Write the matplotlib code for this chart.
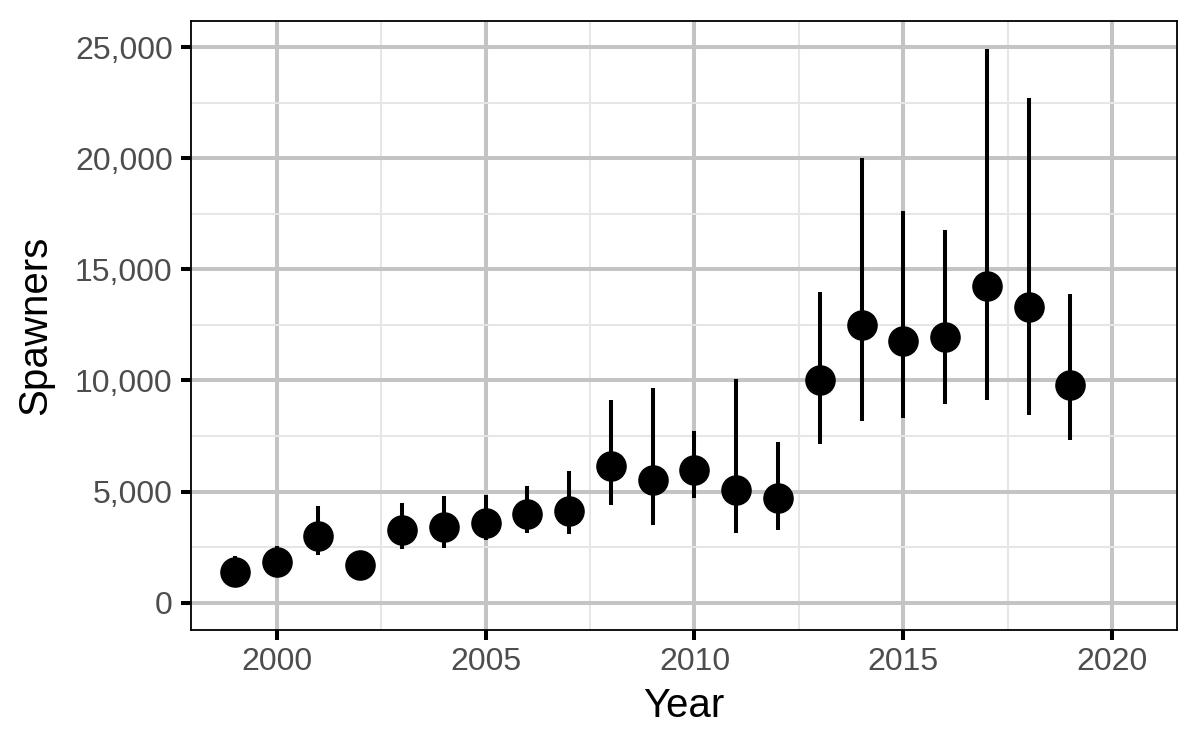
import matplotlib
matplotlib.use("Agg")
import matplotlib.pyplot as plt
from matplotlib.ticker import FuncFormatter, MultipleLocator

years = [1999, 2000, 2001, 2002, 2003, 2004, 2005, 2006, 2007, 2008,
         2009, 2010, 2011, 2012, 2013, 2014, 2015, 2016, 2017, 2018, 2019]
spawners = [1380, 1850, 3020, 1690, 3260, 3410, 3600, 3980, 4130, 6130,
            5510, 5950, 5060, 4690, 10040, 12480, 11780, 11940, 14250, 13310, 9800]
lower = [1000, 1400, 2160, 1450, 2430, 2460, 2840, 3130, 3080, 4390,
         3510, 4690, 3130, 3260, 7130, 8180, 8310, 8940, 9120, 8430, 7320]
upper = [2120, 2570, 4370, 1900, 4490, 4810, 4850, 5260, 5920, 9130,
         9660, 7730, 10050, 7230, 14000, 20000, 17620, 16760, 24930, 22700, 13890]

plt.rcParams['font.family'] = ['Liberation Sans', 'DejaVu Sans']

fig = plt.figure(figsize=(12, 7.5), dpi=100)
ax_l, ax_r, ax_t, ax_b = 191, 1177, 21, 630.4
ax = fig.add_axes([ax_l/1200, 1 - ax_b/750, (ax_r-ax_l)/1200, (ax_b-ax_t)/750])

ax.vlines(years, lower, upper, color='black', linewidth=2.9, zorder=3)
ax.plot(years, spawners, 'o', color='black', markersize=21, zorder=4)

ax.set_xlim(1997.95, 2021.55)
ax.set_ylim(-1247, 26179)

ax.xaxis.set_major_locator(MultipleLocator(5))
ax.xaxis.set_minor_locator(MultipleLocator(2.5))
ax.yaxis.set_major_locator(MultipleLocator(5000))
ax.yaxis.set_minor_locator(MultipleLocator(2500))
ax.yaxis.set_major_formatter(FuncFormatter(lambda v, p: f"{int(v):,}"))

ax.grid(which='major', color='#C4C4C4', linewidth=2.9, zorder=0)
ax.grid(which='minor', color='#E6E6E6', linewidth=1.45, zorder=0)
ax.set_axisbelow(True)

ax.tick_params(which='major', length=7.2, width=2.9, color='black',
               labelsize=23, labelcolor='#4D4D4D')
ax.tick_params(axis='y', pad=6)
ax.tick_params(axis='x', pad=5)
ax.tick_params(which='minor', length=0)

for s in ax.spines.values():
    s.set_color('black')
    s.set_linewidth(1.3)

ax.set_xlabel('Year', fontsize=29, color='black')
ax.set_ylabel('Spawners', fontsize=29, color='black')
ax.xaxis.label.set_va('center')
ax.yaxis.label.set_va('center')
ax.xaxis.set_label_coords(0.5, (ax_b - 706) / (ax_b - ax_t))
ax.yaxis.set_label_coords((35 - ax_l) / (ax_r - ax_l), 0.5)

fig.savefig('out.png', dpi=100)
